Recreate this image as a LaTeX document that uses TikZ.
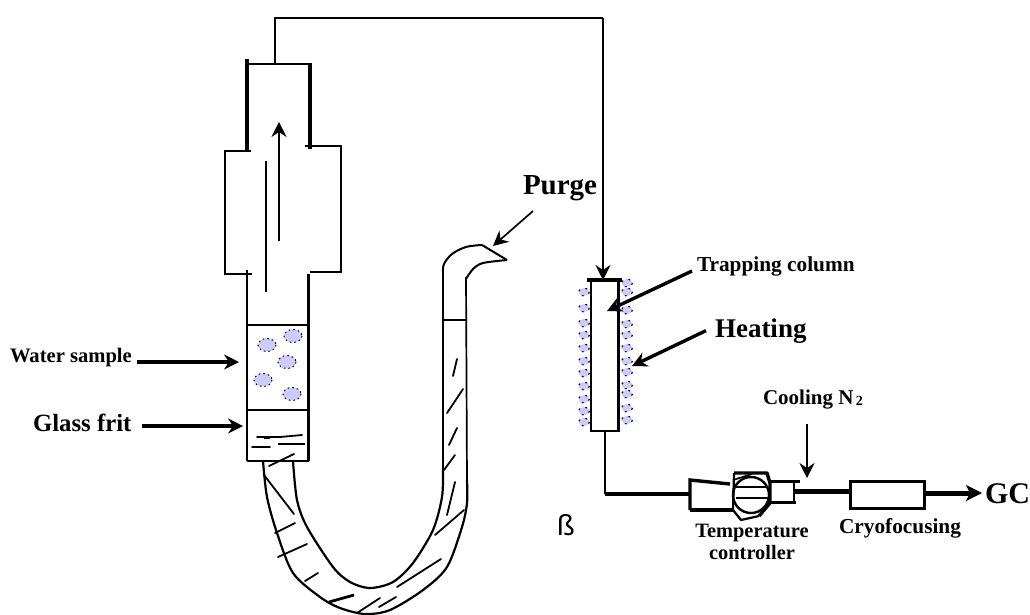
\documentclass[tikz,border=0pt]{standalone}
\usepackage{fontspec}
\setmainfont{Liberation Serif}
\newfontfamily\sansf{Liberation Sans}
\usetikzlibrary{arrows.meta}
\tikzset{
  x=1pt,y=-1pt,
  thinl/.style={line width=1.7pt,black},
  thickl/.style={line width=3.6pt,black},
  hatch/.style={line width=1.8pt,black,line cap=round},
  arr/.style={line width=1.7pt,-{Stealth[length=15pt,width=15pt,inset=5pt]}},
  arrb/.style={line width=3.4pt,-{Stealth[length=15pt,width=15pt,inset=5pt]}},
  lab/.style={inner sep=0pt,outer sep=0pt,anchor=base west},
  bub/.style={fill=bubblec,draw=black,dash pattern=on 1.6pt off 3pt,line width=1pt},
  sbub/.style={fill=bubblec,draw=black,dash pattern=on 1.8pt off 6pt,line width=1.2pt},
}
\definecolor{bubblec}{HTML}{CCCCFF}
\newcommand{\fs}[1]{\fontsize{#1}{#1}\selectfont}
\begin{document}
\begin{tikzpicture}
\useasboundingbox (0,0) rectangle (1030,614);

% column heat beads (behind)
\foreach \y in {292,308,323,335,348,361,373,386,399,411,422}
  \path[sbub] (584,\y) ellipse [x radius=5.5,y radius=4];
\foreach \y in {283,292,310,324,335,348,361,372,385,394,408,420}
  \path[sbub] (627,\y) ellipse [x radius=5.5,y radius=4];

% named parts
\node[draw=black,fill=white,line width=1.7pt,minimum width=28pt,minimum height=151pt,inner sep=0pt,outer sep=0pt] (column) at (605,355.5) {};
\node[draw=black,line width=3pt,minimum width=74pt,minimum height=27pt,inner sep=0pt,outer sep=0pt] (cryo) at (887,494.5) {};
\coordinate (flasktop) at (275,63);
\coordinate (pipecorner) at (275,18);
\coordinate (pipeturn) at (603,18);
\coordinate (pipebend) at (605,494);
\coordinate (pipein) at (690,494);

% upper tube
\draw[thinl] (247,64) -- (310,64);
\draw[thickl] (247,59) -- (247,151);
\draw[thickl] (310,63) -- (310,149);
\draw[thinl] (251,151) -- (225,151) -- (225,274) -- (252,274);
\draw[thinl] (305,146) -- (341,146) -- (341,272) -- (310,272);
\draw[thinl] (247,270) -- (247,461);
\draw[line width=3pt] (308,274) -- (308,461);
\draw[thinl] (266,161) -- (266,292);
\coordinate (ffrom) at (279,241);
\coordinate (fto) at (279,122);
\draw[arr] (ffrom) -- (fto);

% lower chamber
\draw[thinl] (247,325) -- (308,325);
\draw[thinl] (247,410) -- (308,410);
\draw[thinl] (247,461) -- (309,461);

% bubbles
\path[bub] (267,345) ellipse [x radius=9,y radius=6.5];
\path[bub] (293,336) ellipse [x radius=9,y radius=6.5];
\path[bub] (287,362) ellipse [x radius=9,y radius=6.5];
\path[bub] (263,380) ellipse [x radius=9,y radius=6.5];
\path[bub] (292,394) ellipse [x radius=9,y radius=6.5];

% frit marks
\draw[hatch] (257,437) -- (280,437) -- (302,435);
\draw[line width=2.2pt] (264,438) -- (270,438);
\draw[hatch] (252,447) -- (270,447);
\draw[line width=2.6pt] (278,444) -- (305,444);
\draw[hatch] (269,466) -- (294,454);

% U tube
\draw[line width=2.2pt,line join=round] plot[smooth,tension=0.5] coordinates {(263,461) (267,497) (277,533) (293,573) (320,597) (340,608) (365,614) (390,610) (423,590) (447,567) (462,527) (467,503) (467,480)};
\draw[line width=2.2pt,line join=round] plot[smooth,tension=0.5] coordinates {(293,461) (297,500) (307,527) (333,567) (350,582) (370,588) (393,582) (413,563) (433,530) (442,497) (443,470)};
\draw[thinl] (443,470) -- (443,272);
\draw[thinl] (467,482) -- (466,277);
\draw[line width=2pt,line join=round] plot[smooth,tension=0.6] coordinates {(443,272) (444,264) (452,254) (466,247) (482,245)};
\draw[line width=2pt,line join=round] (482,245) -- (507,260);
\draw[line width=2pt,line join=round] plot[smooth,tension=0.5] coordinates {(507,260) (483,263) (473,269) (466,279)};
\draw[thinl] (443,320) -- (466,320);

% U tube hatches
\draw[hatch] (457,359) -- (453,376);
\draw[hatch] (463,389) -- (447,413);
\draw[hatch] (457,428) -- (449,445);
\draw[hatch] (455,455) -- (444,470);
\draw[hatch] (455,482) -- (447,515);
\draw[hatch] (464,510) -- (435,535);
\draw[hatch] (441,559) -- (397,587);
\draw[hatch] (396,597) -- (379,607);
\draw[hatch] (380,598) -- (357,613);
\draw[line width=2.8pt] (329,602) -- (354,595);
\draw[hatch] (318,573) -- (305,581);
\draw[hatch] (307,544) -- (278,557);
\draw[hatch] (295,523) -- (275,533);
\draw[hatch] (264,475) -- (294,514);

% top pipe
\draw[thinl] (flasktop) -- (pipecorner) -- (pipeturn);
\draw[arr] (pipeturn) -- (column.north -| pipeturn);
\draw[line width=3.6pt] (587,280) -- (622,280);
\draw[line width=3.2pt] (618.5,280) -- (618.5,431);

% lower pipe
\draw[line width=1.7pt] (column.south) -- (pipebend);
\draw[line width=3.4pt] (pipebend) -- (pipein);

% temperature controller
\draw[line width=3.4pt] (690,510) -- (690,480) -- (730,484);
\draw[line width=3.4pt] (690,510) -- (734,510);
\draw[line width=3.4pt,line join=round] (734,473) -- (767,473) -- (770,483) -- (770,503) -- (759,516);
\draw[line width=2.2pt,line join=round] (734,473) -- (733,510) -- (741,520) -- (759,516);
\draw[line width=1.7pt] (733,480) -- (752,474);
\draw[line width=2.4pt] (751,495) circle [radius=18];
\draw[line width=1.6pt] (736,487) -- (767,487);
\draw[line width=1.6pt] (736,498) -- (768,498);
\draw[line width=3pt] (769,481) -- (800,481);
\draw[line width=3pt] (769,502) -- (796,502);
\draw[thinl] (794,481) -- (794,502);
\draw[line width=5pt] (794,491) -- (cryo.west |- 0,491);

% outgoing
\node[lab,font=\bfseries\fs{30}] (gc) at (985,503) {GC};
\draw[line width=5pt,-{Stealth[length=16pt,width=16pt,inset=4pt]}] (cryo.east |- 0,493) -- ([xshift=-3pt]gc.west |- 0,493);

% labels and pointers
\node[lab,font=\bfseries\fs{20.6}] (water) at (10,362) {Water sample};
\coordinate (watertip) at (239,362);
\draw[arrb] ([xshift=5pt]water.base east) -- (watertip);
\node[lab,font=\bfseries\fs{24.8}] (glass) at (33,431) {Glass frit};
\coordinate (glasstip) at (243,426);
\draw[arrb] ([xshift=11pt]glass.east |- glasstip) -- (glasstip);
\node[lab,font=\bfseries\fs{29}] (purge) at (523,194) {Purge};
\coordinate (purgefrom) at (533,211);
\coordinate (purgetip) at (493,246);
\draw[arr] (purgefrom) -- (purgetip);
\node[lab,font=\bfseries\fs{21.3}] (trap) at (697,271) {Trapping column};
\coordinate (traptip) at (607,311);
\draw[arrb] ([xshift=-5pt]trap.base west) -- (traptip);
\node[lab,font=\bfseries\fs{27}] (heat) at (715,337) {Heating};
\coordinate (heattip) at (632,366);
\draw[arrb] ([xshift=-9pt]heat.west) -- (heattip);
\node[lab,font=\bfseries\fs{21}] (cool) at (763,404) {Cooling N\raisebox{-1.5pt}{\fs{14}\,2}};
\coordinate (cooltip) at (807,478);
\coordinate (coolfrom) at (807,424);
\draw[arr] (coolfrom) -- (cooltip);
\node[lab,font=\bfseries\fs{20.4},anchor=base] (temp) at (752,537) {Temperature};
\node[lab,font=\bfseries\fs{20.4},anchor=base] (ctrl) at (752,559) {controller};
\node[lab,font=\bfseries\fs{21.3},anchor=base] (cryolab) at (900,533) {Cryofocusing};
\node[lab,font=\sansf\fs{29}] (beta) at (557,535) {ß};
\end{tikzpicture}
\end{document}
